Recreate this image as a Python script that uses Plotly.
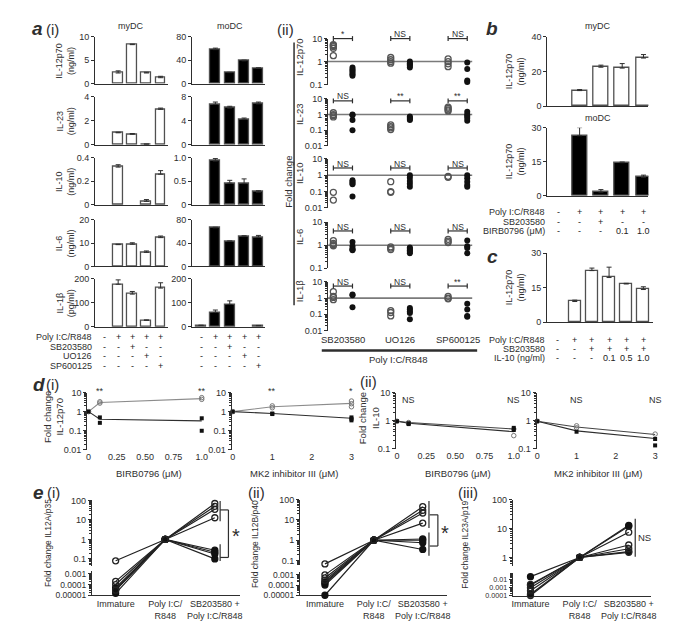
import numpy as np
import plotly.graph_objects as go

W, H = 683, 625
FONT = "Liberation Sans, Arial, Helvetica, sans-serif"
INK = "#2e2e2e"
GREY = "#8c8c8c"
EDGE = "#505050"

# ============================ DATA ============================
# ---- a(i): cytokine secretion, 5 conditions ----
a_conditions = [0, 1, 2, 3, 4]
a_cytokines = ["IL-12p70", "IL-23", "IL-10", "IL-6", "IL-1β"]
a_units = ["(ng/ml)", "(ng/ml)", "(ng/ml)", "(ng/ml)", "(pg/ml)"]
a_row_poly = ["-", "+", "+", "+", "+"]
a_row_sb = ["-", "-", "+", "-", "-"]
a_row_uo = ["-", "-", "-", "+", "-"]
a_row_sp = ["-", "-", "-", "-", "+"]

mydc_vals = [
    [None, 2.3, 8.3, 2.3, 1.3],
    [None, 1.0, 0.88, 0.05, 2.95],
    [None, 0.32, None, 0.03, 0.26],
    [None, 9.3, 9.5, 6.0, 12.3],
    [None, 177, 136, 27, 161],
]
mydc_errs = [
    [0, 0.45, 0.12, 0.15, 0.3],
    [0, 0.05, 0.06, 0.02, 0.1],
    [0, 0.02, 0, 0.015, 0.03],
    [0, 0.2, 0.6, 0.6, 0.7],
    [0, 18, 11, 2, 22],
]
mydc_ymax = [10, 4, 0.4, 20, 200]
mydc_ticks = [[0, 5, 10], [0, 2, 4], [0, 0.2, 0.4], [0, 10, 20], [0, 100, 200]]
mydc_ticktext = [["0", "5", "10"], ["0", "2", "4"], ["0", "0.2", "0.4"], ["0", "10", "20"], ["0", "100", "200"]]

modc_vals = [
    [None, 58, 19, 39, 26.5],
    [None, 6.7, 6.1, 4.2, 6.8],
    [None, 0.93, 0.46, 0.45, 0.27],
    [None, 66, 43, 51, 50],
    [6, 60, 93, None, 5],
]
modc_errs = [
    [0, 2.5, 0.5, 1.2, 0.6],
    [0, 0.4, 0.3, 0.25, 0.3],
    [0, 0.05, 0.06, 0.1, 0.03],
    [0, 1, 0.5, 1.5, 3],
    [1, 10, 15, 0, 1],
]
modc_ymax = [80, 8, 1.0, 80, 200]
modc_ticks = [[0, 40, 80], [0, 4, 8], [0, 0.5, 1.0], [0, 40, 80], [0, 100, 200]]
modc_ticktext = [["0", "40", "80"], ["0", "4", "8"], ["0", "0.5", "1.0"], ["0", "40", "80"], ["0", "100", "200"]]

# ---- a(ii): fold change (open = myDC, filled = moDC) per inhibitor ----
aii_inhibitors = ["SB203580", "UO126", "SP600125"]
aii_mydc = [
    [[5.5, 5.0, 4.5, 3.8, 1.8], [1.5, 1.2, 1.0, 0.85], [1.3, 1.0, 0.8, 0.6]],
    [[1.3, 1.0, 0.85, 0.7], [0.22, 0.17, 0.14, 0.11], [3.0, 2.5, 2.0, 1.7]],
    [[0.09, 0.03], [0.4, 0.1, 0.09], [0.85, 0.75]],
    [[1.6, 1.2, 1.05, 0.95], [0.85, 0.75, 0.65], [1.8, 1.5, 1.3]],
    [[2.5, 1.3, 1.1, 0.8], [0.17, 0.13, 0.08], [1.3, 1.0, 0.9]],
]
aii_modc = [
    [[0.55, 0.45, 0.4, 0.33, 0.28, 0.24], [1.0, 0.85, 0.75, 0.65, 0.55], [0.9, 0.48, 0.15, 0.13]],
    [[1.0, 0.9, 0.45, 0.1], [0.75, 0.62, 0.52, 0.45], [1.5, 1.0, 0.8, 0.6, 0.4]],
    [[0.5, 0.4, 0.33, 0.28, 0.05], [1.0, 0.7, 0.45, 0.3, 0.2], [1.0, 0.65, 0.4, 0.25, 0.2]],
    [[1.4, 0.9, 0.7, 0.65, 0.6], [0.8, 0.7, 0.6, 0.52, 0.45], [1.6, 0.9, 0.75, 0.45]],
    [[1.7, 1.5, 0.27], [0.25, 0.2, 0.15, 0.12, 0.05], [0.45, 0.2, 0.08, 0.07]],
]
aii_sig = [["*", "NS", "NS"], ["NS", "**", "**"], ["NS", "NS", "NS"], ["NS", "NS", "NS"], ["NS", "NS", "**"]]
aii_ylo = [-1, -2, -2, -1, -2]
aii_ticks = [[0.1, 1, 10], [0.01, 0.1, 1, 10], [0.01, 0.1, 1, 10], [0.1, 1, 10], [0.01, 0.1, 1, 10]]
aii_ticktext = [["0.1", "1", "10"], ["0.01", "0.1", "1", "10"], ["0.01", "0.1", "1", "10"],
                ["0.1", "1", "10"], ["0.01", "0.1", "1", "10"]]

# ---- b: IL-12p70 with BIRB0796 ----
b_conditions = [0, 1, 2, 3, 4]
b_mydc = [None, 9.0, 22.5, 22.0, 27.8]
b_mydc_err = [0, 0.6, 1.2, 2.6, 2.0]
b_modc = [None, 26.5, 1.6, 14.6, 8.2]
b_modc_err = [0, 3.6, 1.1, 0.3, 0.9]
b_row_poly = ["-", "+", "+", "+", "+"]
b_row_sb = ["-", "-", "+", "-", "-"]
b_row_birb = ["-", "-", "-", "0.1", "1.0"]

# ---- c: IL-12p70 with IL-10 ----
c_conditions = [0, 1, 2, 3, 4, 5]
c_vals = [None, 9.0, 22.4, 19.4, 16.6, 14.2]
c_err = [0, 0.6, 1.1, 4.5, 0.3, 1.2]
c_row_poly = ["-", "+", "+", "+", "+", "+"]
c_row_sb = ["-", "-", "+", "+", "+", "+"]
c_row_il10 = ["-", "-", "-", "0.1", "0.5", "1.0"]

# ---- d: dose responses (open = myDC, filled = moDC) ----
d_birb_dose = [0, 0.1, 1.0]
d_mk2_dose = [0, 1, 3]
d_i_birb_open_mean = [1.0, 3.0, 4.8]
d_i_birb_open_pts = [[1.0], [2.8, 3.3], [4.4, 5.4]]
d_i_birb_fill_mean = [1.0, 0.4, 0.33]
d_i_birb_fill_pts = [[1.0], [0.5, 0.26], [0.45, 0.1]]
d_i_mk2_open_mean = [1.0, 1.8, 2.7]
d_i_mk2_open_pts = [[1.0], [1.6, 2.0], [1.8, 2.6, 3.6]]
d_i_mk2_fill_mean = [1.0, 0.8, 0.45]
d_i_mk2_fill_pts = [[1.0], [0.8, 0.75], [0.5, 0.42, 0.35]]
d_i_birb_sig = ["**", "**"]
d_i_mk2_sig = ["**", "*"]

d_ii_birb_open_mean = [0.95, 0.85, 0.5]
d_ii_birb_open_pts = [[0.95], [0.85, 0.8], [0.5, 0.29]]
d_ii_birb_fill_mean = [0.95, 0.8, 0.4]
d_ii_birb_fill_pts = [[0.95], [0.8, 0.75], [0.55, 0.46]]
d_ii_mk2_open_mean = [0.95, 0.59, 0.32]
d_ii_mk2_open_pts = [[0.95], [0.65, 0.55], [0.33]]
d_ii_mk2_fill_mean = [0.95, 0.43, 0.23]
d_ii_mk2_fill_pts = [[0.95], [0.4], [0.22, 0.13]]
d_ii_sig = ["NS", "NS"]

# ---- e: transcript fold change per donor ----
e_stages = ["Immature", "Poly I:C/<br>R848", "SB203580 +<br>Poly I:C/R848"]
e_il12a_immature = [0.08, 0.0002, 0.00003, 0.0001, 0.00005, 0.00004, 0.00003, 0.000015]
e_il12a_poly = [1, 1, 1, 1, 1, 1, 1, 1]
e_il12a_sb = [70, 50, 35, 13, 0.28, 0.22, 0.18, 0.1]
e_il12a_open = [True, True, True, True, False, False, False, False]

e_il12b_immature = [0.068, 0.001, 0.0005, 0.0003, 0.0002, 0.00015, 0.0001, 0.00001]
e_il12b_poly = [1, 1, 1, 1, 1, 1, 1, 1]
e_il12b_sb = [45, 30, 22, 7, 1.15, 1.0, 0.75, 0.35]
e_il12b_open = [True, True, True, True, False, False, False, False]

e_il23a_immature = [0.025, 0.002, 0.0025, 0.001, 0.0004, 0.00015, 0.0001]
e_il23a_poly = [1, 1, 1, 1, 1, 1, 1]
e_il23a_sb = [13, 12, 7.5, 2.7, 2.0, 1.6, 1.5]
e_il23a_open = [False, False, True, True, True, False, True]

# ============================ HELPERS ============================
traces = []
annotations = []
shapes = []
layout = dict(width=W, height=H, autosize=False, margin=dict(l=0, r=0, t=0, b=0, pad=0),
              paper_bgcolor="white", plot_bgcolor="rgba(0,0,0,0)", showlegend=False,
              font=dict(family=FONT, size=9, color=INK), bargap=0)


def px2x(px):
    return px / W


def px2y(py):
    return 1 - py / H


_n = {"x": 0, "y": 0}


def new_axis(kind, p0, p1, **kw):
    _n[kind] += 1
    n = _n[kind]
    ref = kind if n == 1 else f"{kind}{n}"
    key = f"{kind}axis" if n == 1 else f"{kind}axis{n}"
    if kind == "x":
        dom = [px2x(p0), px2x(p1)]
    else:
        dom = [px2y(p1), px2y(p0)]
    d = dict(domain=dom, showgrid=False, zeroline=False, fixedrange=True)
    d.update(kw)
    layout[key] = d
    return ref, key


def link(xr, xk, yr, yk):
    layout[xk]["anchor"] = yr
    layout[yk]["anchor"] = xr


def txt(px, py, s, size=9, angle=0, xanchor="center", yanchor="middle", xref="paper", x=None,
        color=INK):
    annotations.append(dict(
        x=px2x(px) if x is None else x, y=px2y(py), xref=xref, yref="paper", text=s,
        showarrow=False, textangle=angle, xanchor=xanchor, yanchor=yanchor,
        font=dict(size=size, color=color, family=FONT)))


def seg(x0, y0, x1, y1, width=1.0, color=INK, xref="paper"):
    shapes.append(dict(type="line", xref=xref, yref="paper",
                       x0=px2x(x0) if xref == "paper" else x0, x1=px2x(x1) if xref == "paper" else x1,
                       y0=px2y(y0), y1=px2y(y1), line=dict(color=color, width=width)))


def minor_log(lo, hi):
    vals = []
    for e in range(int(np.floor(lo)) - 1, int(np.ceil(hi)) + 1):
        for m in range(2, 10):
            v = m * 10.0 ** e
            if lo <= np.log10(v) <= hi:
                vals.append(v)
    return vals


YAX = dict(showline=True, linecolor=INK, linewidth=1, ticks="outside", ticklen=3, tickwidth=1,
           tickcolor=INK, tickfont=dict(size=9, color=INK, family=FONT))


def bar_panel(px0, px1, pytop, pybot, xrange, ymax, tickvals, ticktext, cats, vals, errs, fill, bw):
    xr, xk = new_axis("x", px0, px1, range=xrange, showline=True, linecolor=INK, linewidth=1,
                      showticklabels=False, ticks="")
    yr, yk = new_axis("y", pytop, pybot, range=[0, ymax], tickvals=tickvals, ticktext=ticktext, **YAX)
    link(xr, xk, yr, yk)
    traces.append(go.Bar(
        x=cats, y=vals, width=bw, xaxis=xr, yaxis=yr, hoverinfo="skip",
        marker=dict(color=fill, line=dict(color=EDGE, width=1.3)),
        error_y=dict(type="data", symmetric=False, array=errs, arrayminus=[0] * len(errs),
                     color=INK, thickness=1, width=2.5)))
    return xr


# ============================ PANEL a(i) ============================
a_tops = [24, 85, 147, 210, 270]
a_bots = [72, 134, 195, 257.5, 319]
mydc_x = None
modc_x = None
for r in range(5):
    mydc_x = bar_panel(86, 160, a_tops[r], a_bots[r], [-0.63, 4.55], mydc_ymax[r], mydc_ticks[r],
                       mydc_ticktext[r], a_conditions, mydc_vals[r], mydc_errs[r], "white", 0.7)
    modc_x = bar_panel(184, 258, a_tops[r], a_bots[r], [-0.62, 4.48], modc_ymax[r], modc_ticks[r],
                       modc_ticktext[r], a_conditions, modc_vals[r], modc_errs[r], "black", 0.7)
    txt(56, (a_tops[r] + a_bots[r]) / 2, f"{a_cytokines[r]}<br>{a_units[r]}", size=9, angle=-90)

txt(122, 13, "myDC", size=9)
txt(222, 13, "moDC", size=9)
txt(28, 16, "<b><i>a</i></b>", size=19)
txt(43, 17, "(i)", size=15)

a_table = [("Poly I:C/R848", a_row_poly), ("SB203580", a_row_sb), ("UO126", a_row_uo), ("SP600125", a_row_sp)]
for i, (lab, row) in enumerate(a_table):
    py = 329 + 10 * i
    txt(85, py, lab, size=9, xanchor="right")
    for c, s in zip(a_conditions, row):
        txt(0, py, s, size=9, xref=mydc_x, x=c, color="#222222")
        txt(0, py, s, size=9, xref=modc_x, x=c, color="#222222")

# ============================ PANEL a(ii) ============================
aii_tops = [26, 87.3, 148.3, 212.7, 273.3]
aii_bots = [72.7, 135, 198, 259.3, 322.7]
aii_label_py = [45, 103, 163, 228, 283]
aii_bracket_py = [26, 89.3, 157.5, 221.5, 277.5]
for r in range(5):
    xr, xk = new_axis("x", 321.3, 469.7, range=[-0.28, 7.4], showline=False, showticklabels=False, ticks="")
    yr, yk = new_axis("y", aii_tops[r], aii_bots[r], type="log", range=[aii_ylo[r], 1],
                      tickvals=aii_ticks[r], ticktext=aii_ticktext[r],
                      minor=dict(tickvals=minor_log(aii_ylo[r], 1), ticks="outside", ticklen=2,
                                 tickcolor=INK, tickwidth=0.8), **YAX)
    link(xr, xk, yr, yk)
    traces.append(go.Scatter(x=[-0.28, 7.26], y=[1, 1], mode="lines", xaxis=xr, yaxis=yr,
                             line=dict(color="#7a7a7a", width=1.6), hoverinfo="skip"))
    for g in range(3):
        vo = aii_mydc[r][g]
        vf = aii_modc[r][g]
        traces.append(go.Scatter(x=[3 * g] * len(vo), y=vo, mode="markers", xaxis=xr, yaxis=yr,
                                 marker=dict(symbol="circle-open", size=6, color="#555555",
                                             line=dict(width=1.3)), cliponaxis=False, hoverinfo="skip"))
        traces.append(go.Scatter(x=[3 * g + 1] * len(vf), y=vf, mode="markers", xaxis=xr, yaxis=yr,
                                 marker=dict(symbol="circle", size=6, color="#111111"),
                                 cliponaxis=False, hoverinfo="skip"))
        by = aii_bracket_py[r]
        seg(3 * g, by, 3 * g + 1, by, width=1.2, xref=xr)
        seg(3 * g, by - 2.5, 3 * g, by + 2.5, width=1.2, xref=xr)
        seg(3 * g + 1, by - 2.5, 3 * g + 1, by + 2.5, width=1.2, xref=xr)
        txt(0, by - 4.5, aii_sig[r][g], size=8.5, xref=xr, x=3 * g + 0.5)
        if r == 4:
            txt(0, 331.7, aii_inhibitors[g], size=9.5, xref=xr, x=3 * g + 0.5)
    txt(292.7, aii_label_py[r], a_cytokines[r], size=9.5, angle=-90)

txt(278, 17, "(ii)", size=15)
seg(287, 30, 287, 297, width=1.5)
txt(281.5, 172, "Fold change", size=9.5, angle=-90)
seg(315, 343, 472, 343, width=2.5)
txt(393, 352.5, "Poly I:C/R848", size=9.5)

# ============================ PANEL b ============================
txt(487, 16, "<b><i>b</i></b>", size=19)
b_x1 = bar_panel(543, 645, 24.3, 94.7, [-0.51, 4.23], 40, [0, 20, 40], ["0", "20", "40"],
                 b_conditions, b_mydc, b_mydc_err, "white", 0.7)
b_x2 = bar_panel(543, 645, 116.7, 185.7, [-0.51, 4.23], 30, [0, 15, 30], ["0", "15", "30"],
                 b_conditions, b_modc, b_modc_err, "black", 0.7)
txt(594, 13, "myDC", size=9)
txt(594, 107, "moDC", size=9)
txt(510, 59.5, "IL-12p70<br>(ng/ml)", size=9, angle=-90)
txt(510, 151, "IL-12p70<br>(ng/ml)", size=9, angle=-90)
for i, (lab, row) in enumerate([("Poly I:C/R848", b_row_poly), ("SB203580", b_row_sb),
                                ("BIRB0796 (μM)", b_row_birb)]):
    py = 202.7 + 9.3 * i
    txt(542.5, py, lab, size=9, xanchor="right")
    for c, s in zip(b_conditions, row):
        txt(0, py, s, size=9, xref=b_x2, x=c, color="#222222")

# ============================ PANEL c ============================
txt(487, 247, "<b><i>c</i></b>", size=19)
c_x = bar_panel(542.7, 650, 244, 314.3, [-0.61, 5.58], 30, [0, 15, 30], ["0", "15", "30"],
                c_conditions, c_vals, c_err, "white", 0.69)
txt(510, 279, "IL-12p70<br>(ng/ml)", size=9, angle=-90)
for i, (lab, row) in enumerate([("Poly I:C/R848", c_row_poly), ("SB203580", c_row_sb),
                                ("IL-10 (ng/ml)", c_row_il10)]):
    py = 332 + 9.5 * i
    txt(542.5, py, lab, size=9, xanchor="right")
    for c, s in zip(c_conditions, row):
        txt(0, py, s, size=9, xref=c_x, x=c, color="#222222")


# ============================ PANEL d ============================
def d_panel(px0, px1, xrange, xtv, xtt, pytop, pybot, ylo, ytv, ytt, dose,
            om, opts, fm, fpts, sig, sig_x, sig_py, open_line):
    xr, xk = new_axis("x", px0, px1, range=xrange, showline=False, ticks="", tickvals=xtv, ticktext=xtt,
                      tickfont=dict(size=9, color=INK, family=FONT))
    yr, yk = new_axis("y", pytop, pybot, type="log", range=[ylo, 1], tickvals=ytv, ticktext=ytt,
                      minor=dict(tickvals=minor_log(ylo, 1), ticks="outside", ticklen=2,
                                 tickcolor=INK, tickwidth=0.8), **YAX)
    link(xr, xk, yr, yk)
    traces.append(go.Scatter(x=dose, y=om, mode="lines", xaxis=xr, yaxis=yr,
                             line=dict(color=open_line, width=1.1), hoverinfo="skip"))
    traces.append(go.Scatter(x=dose, y=fm, mode="lines", xaxis=xr, yaxis=yr,
                             line=dict(color=INK, width=1.1), hoverinfo="skip"))
    ox = [d for d, p in zip(dose, opts) for _ in p]
    oy = [v for p in opts for v in p]
    fx = [d for d, p in zip(dose, fpts) for _ in p]
    fy = [v for p in fpts for v in p]
    traces.append(go.Scatter(x=ox, y=oy, mode="markers", xaxis=xr, yaxis=yr, cliponaxis=False,
                             marker=dict(symbol="circle-open", size=4.5, color="#777777", line=dict(width=1)),
                             hoverinfo="skip"))
    traces.append(go.Scatter(x=fx, y=fy, mode="markers", xaxis=xr, yaxis=yr, cliponaxis=False,
                             marker=dict(symbol="square", size=4, color="#111111"), hoverinfo="skip"))
    for s, xv in zip(sig, sig_x):
        txt(0, sig_py, s, size=9, xref=xr, x=xv)


txt(29, 378, "<b><i>d</i></b>", size=19)
txt(43, 378, "(i)", size=15)
d_panel(78, 196, [-0.012, 1.02], [0, 0.25, 0.5, 0.75, 1.0], ["0", "0.25", "0.50", "0.75", "1.0"],
        385.7, 444, -2, [0.01, 0.1, 1, 10], ["0.01", "0.1", "1", "10"], d_birb_dose,
        d_i_birb_open_mean, d_i_birb_open_pts, d_i_birb_fill_mean, d_i_birb_fill_pts,
        d_i_birb_sig, [0.1, 1.0], 384.5, GREY)
d_panel(224, 347, [-0.025, 3.05], [0, 1, 2, 3], ["0", "1", "2", "3"],
        385.7, 444, -2, [0.01, 0.1, 1, 10], ["0.01", "0.1", "1", "10"], d_mk2_dose,
        d_i_mk2_open_mean, d_i_mk2_open_pts, d_i_mk2_fill_mean, d_i_mk2_fill_pts,
        d_i_mk2_sig, [1, 3], 384.5, GREY)
txt(44, 411, "Fold change<br>IL-12p70", size=9.5, angle=-90)
txt(140, 467.7, "BIRB0796 (μM)", size=9.5)
txt(287, 467.7, "MK2 inhibitor III (μM)", size=9.5)

txt(362, 374.5, "(ii)", size=15)
d_panel(390, 511, [-0.008, 1.017], [0, 0.25, 0.5, 0.75, 1.0], ["0", "0.25", "0.50", "0.75", "1.0"],
        385.7, 442.7, -1, [0.1, 1, 10], ["0.1", "1", "10"], d_birb_dose,
        d_ii_birb_open_mean, d_ii_birb_open_pts, d_ii_birb_fill_mean, d_ii_birb_fill_pts,
        d_ii_sig, [0.1, 1.0], 393.3, "#444444")
d_panel(532, 653, [-0.018, 3.03], [0, 1, 2, 3], ["0", "1", "2", "3"],
        385.7, 442.7, -1, [0.1, 1, 10], ["0.1", "1", "10"], d_mk2_dose,
        d_ii_mk2_open_mean, d_ii_mk2_open_pts, d_ii_mk2_fill_mean, d_ii_mk2_fill_pts,
        d_ii_sig, [1, 3], 393.3, "#444444")
txt(363, 411.5, "Fold change<br>IL-10", size=9.5, angle=-90)
txt(453, 467.7, "BIRB0796 (μM)", size=9.5)
txt(594, 467.7, "MK2 inhibitor III (μM)", size=9.5)


# ============================ PANEL e (broken log axis) ============================
def e_panel(px0, px1, xrange, P, imm, poly, sb, is_open, top_tv, top_tt, bot_tv, bot_tt, bot_font=9):
    top_lo = P["top_hi"] - (P["top_seg_bot"] - P["top_px"]) / P["top_ppd"]
    bot_hi = P["bot_ref_log"] + (P["bot_ref_px"] - P["bot_seg_top"]) / P["bot_ppd"]
    bot_lo = P["bot_ref_log"] - (P["bot_px_bot"] - P["bot_ref_px"]) / P["bot_ppd"]

    def scale(v):
        L = np.log10(v)
        if L >= top_lo:
            return -(P["top_px"] + (P["top_hi"] - L) * P["top_ppd"])
        return -(P["bot_ref_px"] + (P["bot_ref_log"] - L) * P["bot_ppd"])

    xr, xk = new_axis("x", px0, px1, range=xrange, showline=True, linecolor=INK, linewidth=1, ticks="",
                      tickvals=[0, 1, 2], ticktext=e_stages, tickfont=dict(size=9, color=INK, family=FONT))
    ytr, ytk = new_axis("y", P["top_px"], P["top_seg_bot"], type="log", range=[top_lo, P["top_hi"]],
                        tickvals=top_tv, ticktext=top_tt,
                        minor=dict(tickvals=minor_log(top_lo, P["top_hi"]), ticks="outside", ticklen=2,
                                   tickcolor=INK, tickwidth=0.8), **YAX)
    bax = dict(YAX)
    bax["tickfont"] = dict(size=bot_font, color=INK, family=FONT)
    ybr, ybk = new_axis("y", P["bot_seg_top"], P["bot_px_bot"], type="log", range=[bot_lo, bot_hi],
                        tickvals=bot_tv, ticktext=bot_tt,
                        minor=dict(tickvals=minor_log(bot_lo, bot_hi), ticks="outside", ticklen=2,
                                   tickcolor=INK, tickwidth=0.8), **bax)
    ydr, ydk = new_axis("y", P["top_px"], P["bot_px_bot"], range=[-P["bot_px_bot"], -P["top_px"]],
                        visible=False)
    layout[xk]["anchor"] = ybr
    layout[ytk]["anchor"] = xr
    layout[ybk]["anchor"] = xr
    layout[ydk]["anchor"] = xr
    traces.append(go.Scatter(x=[None], y=[None], xaxis=xr, yaxis=ytr, hoverinfo="skip"))
    traces.append(go.Scatter(x=[None], y=[None], xaxis=xr, yaxis=ybr, hoverinfo="skip"))
    for a, b, c in zip(imm, poly, sb):
        traces.append(go.Scatter(x=[0, 1, 2], y=[scale(a), scale(b), scale(c)], mode="lines",
                                 xaxis=xr, yaxis=ydr, line=dict(color="#222222", width=1.2),
                                 cliponaxis=False, hoverinfo="skip"))
    for flag, sym, col in [(False, "circle", "#111111"), (True, "circle-open", "#222222")]:
        xs, ys = [], []
        for a, b, c, o in zip(imm, poly, sb, is_open):
            if o == flag:
                xs += [0, 1, 2]
                ys += [scale(a), scale(b), scale(c)]
        traces.append(go.Scatter(x=xs, y=ys, mode="markers", xaxis=xr, yaxis=ydr, cliponaxis=False,
                                 marker=dict(symbol=sym, size=6, color=col,
                                             line=dict(width=1.3, color=col)),
                                 hoverinfo="skip"))
    return xr


txt(29, 487.5, "<b><i>e</i></b>", size=19)
txt(44, 487, "(i)", size=15)
P1 = dict(top_px=495.4, top_hi=2, top_ppd=19.8, top_seg_bot=561.7,
          bot_seg_top=567, bot_ref_px=570, bot_ref_log=-3, bot_ppd=10.85, bot_px_bot=591.7)
e_panel(82.7, 232, [-0.48, 2.5], P1, e_il12a_immature, e_il12a_poly, e_il12a_sb, e_il12a_open,
        [0.1, 1, 10, 100], ["0.1", "1", "10", "100"], [0.00001, 0.0001, 0.001],
        ["0.00001", "0.0001", "0.001"], bot_font=8.5)
txt(39, 539, "Fold change IL12A/p35", size=8.5, angle=-90)
seg(212.3, 496, 212.3, 516.5, width=1.2)
seg(212.3, 540, 212.3, 557, width=1.2)
seg(212.3, 505, 220.7, 505, width=1.2)
seg(220.7, 505, 220.7, 553.3, width=1.2)
seg(212.3, 553.3, 220.7, 553.3, width=1.2)
txt(228, 532, "*", size=20)

txt(249, 487, "(ii)", size=15)
P2 = dict(top_px=494.6, top_hi=2, top_ppd=20.6, top_seg_bot=561,
          bot_seg_top=568, bot_ref_px=571, bot_ref_log=-3, bot_ppd=10.35, bot_px_bot=591.7)
e_panel(293, 441.7, [-0.51, 2.5], P2, e_il12b_immature, e_il12b_poly, e_il12b_sb, e_il12b_open,
        [0.1, 1, 10, 100], ["0.1", "1", "10", "100"], [0.00001, 0.0001, 0.001],
        ["0.00001", "0.0001", "0.001"], bot_font=8.5)
txt(248.3, 540, "Fold change IL12B/p40", size=8.5, angle=-90)
seg(423.3, 496, 423.3, 523.3, width=1.2)
seg(423.3, 528, 423.3, 551.7, width=1.2)
seg(424, 510, 432.3, 510, width=1.2)
seg(432.3, 510, 432.3, 541.7, width=1.2)
seg(424, 541.7, 432.3, 541.7, width=1.2)
txt(440, 528.5, "*", size=20)

txt(462.5, 487, "(iii)", size=15)
P3 = dict(top_px=494.7, top_hi=2, top_ppd=29.3, top_seg_bot=561.7,
          bot_seg_top=569.5, bot_ref_px=576, bot_ref_log=-2, bot_ppd=8.0, bot_px_bot=592)
e_panel(508, 648, [-0.36, 2.46], P3, e_il23a_immature, e_il23a_poly, e_il23a_sb, e_il23a_open,
        [1, 10, 100], ["1", "10", "100"], [0.0001, 0.001, 0.01], ["0.0001", "0.001", "0.01"],
        bot_font=7.2)
txt(460, 540, "Fold change IL23A/p19", size=8.5, angle=-90)
seg(631.7, 514, 631.7, 552.7, width=1.2)
txt(641.5, 533.3, "NS", size=9.5)

layout["annotations"] = annotations
layout["shapes"] = shapes
fig = go.Figure(data=traces, layout=layout)
fig.write_html("out.html")
